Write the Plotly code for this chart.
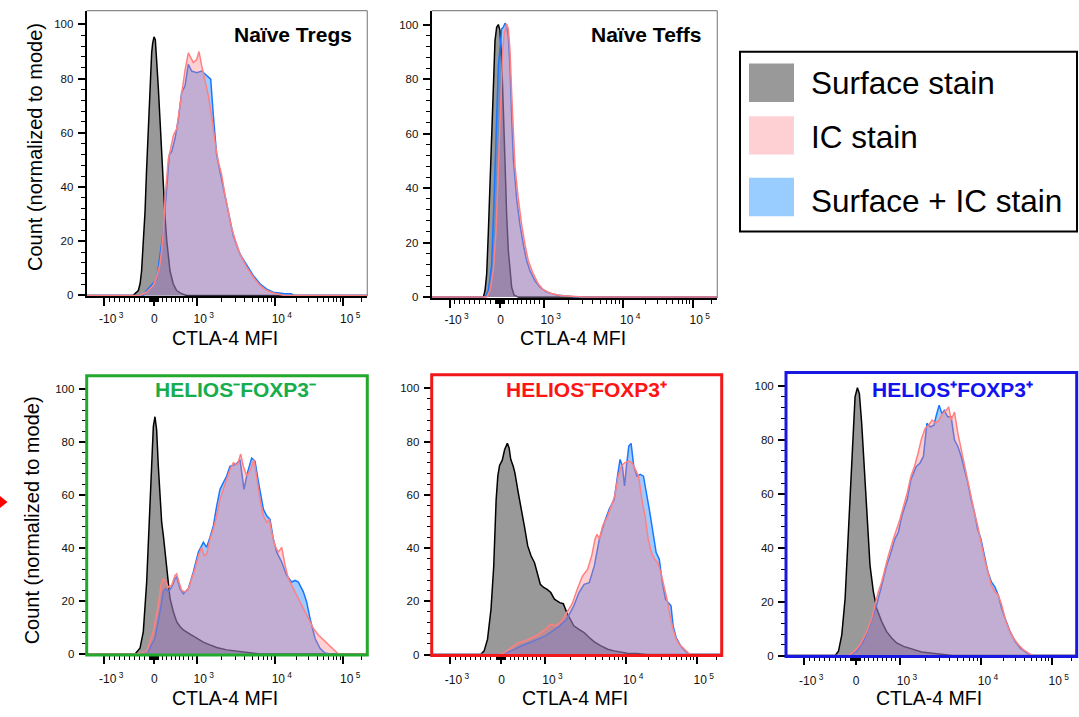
import numpy as np
import plotly.graph_objects as go

# ---------------------------------------------------------------------------
# CTLA-4 histograms (x: CTLA-4 MFI, y: count normalized to mode)
# surf = surface stain, ic = intracellular stain, both = surface + IC stain
# ---------------------------------------------------------------------------

# Naive Tregs
tregs_surf_mfi = [-1500, -420, -315, -280, -250, -215, -180, -150, -115, -80, -47, -27, 0, 31, 62, 100,
                  140, 180, 220, 260, 300, 375, 450, 530, 650, 770, 250000]
tregs_surf_cnt = [0, 0, 1.8, 4.3, 9, 19, 31, 46, 63, 79, 89.5, 93, 95.4, 94.4, 88, 77,
                  65, 53, 38, 28.6, 20, 9, 4.3, 1.8, 0.6, 0, 0]
tregs_ic_mfi = [-1500, -282, -148, -15, 62, 140, 180, 219, 258, 297, 336, 375, 453, 531, 609, 671, 726,
                804, 859, 921, 1000, 1066, 1150, 1260, 1385, 1540, 1670, 1840, 2025, 2230, 2460, 2700,
                2980, 3460, 4220, 5150, 6310, 7760, 9540, 13100, 16220, 250000]
tregs_ic_cnt = [0, 0, 1.2, 3.7, 6.7, 11.6, 17, 23.8, 36, 43, 50.5, 53, 59, 61.5, 70, 76, 83,
                89.5, 87.7, 85.9, 87, 90, 84.7, 79.8, 73.7, 65, 56.6, 49.3, 44.5, 37, 31, 25,
                20.7, 15.2, 10.4, 6.7, 3.7, 1.8, 0.9, 0.1, 0, 0]
tregs_both_mfi = [-1500, -215, -148, 62, 219, 297, 359, 414, 492, 570, 648, 726, 804, 882, 1000, 1150,
                  1260, 1385, 1480, 1595, 1754, 1929, 2123, 2337, 2576, 2842, 3457, 4220, 5150, 6300,
                  7760, 9540, 13100, 16900, 18070, 250000]
tregs_both_cnt = [0, 0, 1.8, 6, 23.8, 39.6, 51.8, 53, 57.9, 65, 75, 77.3, 85.3, 82.8, 82.2, 82.8,
                  81.6, 80.4, 79.8, 66.4, 51.8, 45.7, 39.6, 33.5, 27.4, 21.9, 15.2, 11, 7.3, 4.3,
                  2.3, 1.2, 0.7, 0.6, 0, 0]

# Naive Teffs
teffs_surf_mfi = [-1500, -333, -300, -267, -234, -201, -169, -136, -103, -70, -37, -4, 34, 72, 110,
                  149, 187, 225, 264, 318, 417, 250000]
teffs_surf_cnt = [0, 0, 2.4, 8.5, 24, 43.5, 60, 78.5, 94, 99, 100, 97.8, 87, 69, 48,
                  30, 17, 8.5, 3.6, 0.8, 0, 0]
teffs_ic_mfi = [-1500, -267, -201, -136, -83, -37, 11, 57, 95, 149, 187, 225, 264, 302, 340, 417, 493,
                570, 647, 762, 877, 992, 1190, 1570, 2510, 3030, 250000]
teffs_ic_cnt = [0, 0, 2.4, 9.7, 24, 48, 72.5, 90.6, 97, 100.2, 98.4, 90.6, 75, 58, 48, 36, 26.6,
                19.3, 13.3, 8.5, 4.8, 2.7, 1.4, 0.6, 0.1, 0, 0]
teffs_both_mfi = [-1500, -300, -234, -169, -122, -83, -37, 34, 72, 110, 149, 187, 225, 264, 302, 379,
                  455, 532, 609, 685, 800, 915, 1085, 1430, 2075, 2510, 250000]
teffs_both_cnt = [0, 0, 2.4, 12, 36, 60, 84.5, 98.4, 99, 100.5, 99.6, 95.4, 84.5, 66, 50.7, 36,
                  26.6, 19.3, 13.3, 9.7, 6, 3.6, 1.8, 0.8, 0.2, 0, 0]

# HELIOS- FOXP3-
hnfn_surf_mfi = [-1500, -382, -282, -215, -148, -94, -47, -13, 23, 62, 101, 141, 180, 219, 258, 297,
                 336, 375, 453, 531, 609, 687, 843, 1000, 1202, 1451, 1754, 2337, 3457, 5149, 6304,
                 250000]
hnfn_surf_cnt = [0, 0, 2.2, 8.5, 27, 52, 73, 86, 89.6, 84.6, 71, 58.4, 49.7, 44.7, 38.5, 31,
                 26, 21, 16, 12.2, 10.4, 9.1, 7.5, 6, 4.5, 3.5, 2.5, 1.6, 1, 0.5, 0,
                 0]
hnfn_ic_mfi = [-1500, -349, -148, -13, 101, 164, 219, 258, 336, 414, 492, 531, 585, 648, 726, 804, 882,
               960, 1048, 1149, 1227, 1321, 1451, 1595, 1754, 1929, 2123, 2337, 2576, 2842, 3196,
               3527, 3815, 4220, 4750, 5260, 5697, 6304, 6997, 7757, 8420, 9070, 10040, 11160,
               12420, 13830, 15390, 18072, 21290, 25110, 29640, 35140, 41730, 46670, 55700,
               70310, 84000, 250000]
hnfn_ic_cnt = [0, 0, 1, 8.5, 18.5, 26, 28.5, 27.8, 25.3, 26, 29.7, 30.3, 27.2, 24, 23.5, 24.7, 28.5,
               32.2, 37.2, 40.3, 37.2, 37.8, 43.4, 47.2, 52.2, 58.4, 62.2, 65.9, 69.7, 72.2, 71.5,
               75.5, 70.9, 67.2, 69.7, 73.4, 65.9, 58.4, 52.2, 49.7, 50.9, 45.9, 40.9, 38.5,
               40.3, 33.5, 28.5, 24.7, 21, 17.2, 13.5, 9.7, 7.2, 6, 4.1,
               1.6, 0, 0]
hnfn_both_mfi = [-1500, -315, -114, 23, 141, 219, 273, 336, 414, 492, 531, 609, 687, 804, 921, 1048,
                 1204, 1321, 1451, 1595, 1754, 1929, 2123, 2337, 2576, 2980, 3196, 3457, 3890, 4305,
                 4900, 5420, 5990, 6997, 7757, 8598, 9541, 10600, 12420, 14574, 17120, 19080,
                 21290, 25110, 28040, 31390, 37140, 44170, 52500, 62500, 250000]
hnfn_both_cnt = [0, 0, 1, 6, 16, 23.5, 24.7, 23.5, 25.3, 28.5, 29.1, 24.7, 22.8, 24.7, 31, 38.5,
                 42.2, 40.3, 44.1, 48.4, 55.9, 62.2, 64.7, 67.2, 70.9, 71.5, 72.2, 73.4, 62.2, 68.4,
                 74, 72.8, 65.3, 54.7, 52.2, 50.9, 43.4, 38.5, 34.7, 29.7, 27.2, 27.8,
                 27.2, 23.5, 19.7, 13.5, 6, 2.2, 0.4, 0, 0]

# HELIOS- FOXP3+
hnfp_surf_mfi = [-1500, -400, -333, -267, -200, -147, -100, -67, -33, 23, 77, 138, 177, 215, 269, 308,
                 385, 461, 523, 600, 677, 754, 807, 885, 961, 1049, 1157, 1275, 1475, 1626, 1791,
                 1974, 2175, 2516, 2910, 3366, 3894, 4733, 5752, 6991, 8497, 10300, 13950, 15420,
                 18890, 250000]
hnfp_surf_cnt = [0, 0, 1.4, 5.8, 17, 33, 58, 67, 71, 73, 77, 79.3, 77.7, 73.3, 70.8, 68.3,
                 60.8, 54.6, 48.3, 40.8, 37, 34.5, 30.8, 26.4, 25.2, 24.5, 23.3, 20.8, 19.5, 19.1, 15.8,
                 13.3, 10.8, 9.5, 8.3, 6.4, 4.8, 3.3, 2, 1.4, 1, 0.5, 0.4, 0.25,
                 0, 0]
hnfp_ic_mfi = [-1500, -33, 77, 231, 385, 538, 692, 846, 1000, 1157, 1339, 1548, 1791, 2072, 2397, 2773,
               3207, 3609, 3973, 4210, 4505, 4960, 5752, 6449, 7100, 7843, 8700, 9526, 10000,
               10840, 11990, 13260, 14670, 16230, 17950, 19860, 21960, 24300, 26880, 29730,
               32890, 36380, 40240, 44510, 49240, 54470, 63400, 70100, 79100, 250000]
hnfp_ic_cnt = [0, 0, 0.75, 2.6, 4.5, 5.1, 6.4, 7.6, 9.5, 11.4, 10.8, 12.6, 15.8, 18.9, 24.5, 29.5,
               32, 37, 43.3, 45.2, 43.3, 48.3, 52, 55.8, 59.6, 67, 70.8, 72, 72.3,
               72.7, 72, 69.6, 67, 58.3, 52, 43.3, 38.3, 35.8, 34.5, 30.8,
               25.8, 20.8, 14.5, 9.5, 5.8, 3.9, 2.3, 1.4, 0, 0]
hnfp_both_mfi = [-1500, 0, 231, 461, 692, 846, 1000, 1214, 1475, 1791, 2175, 2516, 2910, 3366, 3894,
                 4505, 5212, 6030, 6991, 7700, 8320, 8902, 9526, 10100, 10840, 11630, 12620, 13950,
                 15430, 17070, 18880, 20890, 23100, 25560, 28270, 31270, 34590, 38260, 41500,
                 44510, 49240, 57300, 66700, 77570, 250000]
hnfp_both_cnt = [0, 0, 1.4, 3.3, 4.8, 5.8, 7, 8.9, 10.8, 13.3, 18.3, 23.3, 26.4, 27, 33.3,
                 43.3, 49.6, 54.6, 58.3, 67, 73.3, 70.8, 63.3, 70.8, 78.3, 79.3, 70.8, 67,
                 67.7, 67, 60.8, 53.3, 45.8, 38.3, 35.8, 27, 20.8, 19.5, 18.3,
                 10.8, 6.4, 3.3, 1.4, 0, 0]

# HELIOS+ FOXP3+
hpfp_surf_mfi = [-1500, -400, -335, -271, -206, -161, -110, -58, -13, 38, 83, 135, 188, 248, 323, 399,
                 474, 587, 699, 812, 925, 1103, 1409, 1800, 2414, 3240, 4353, 250000]
hpfp_surf_cnt = [0, 0, 1.6, 7.7, 21.2, 38.4, 60.4, 82.5, 96, 99.4, 97.2, 86.2, 70.2, 51.8, 33.5, 23.7,
                 17.5, 12.6, 8.9, 6.5, 4.7, 3.4, 2.2, 1.3, 0.9, 0.4, 0, 0]
hpfp_ic_mfi = [-1500, -142, -45, 98, 248, 361, 436, 511, 587, 662, 737, 850, 925, 1000, 1103, 1216,
               1342, 1480, 1632, 1800, 1985, 2190, 2414, 2663, 2937, 3240, 3572, 3865, 4140, 4566,
               5036, 5554, 6125, 6755, 7450, 8217, 9062, 10000, 11130, 12390, 13790, 15350,
               17090, 19020, 21170, 23570, 27670, 32490, 38150, 44810, 52600, 250000]
hpfp_ic_cnt = [0, 0, 1.3, 4, 8.9, 13.8, 18.8, 23.7, 27.3, 32.2, 37.1, 43.3, 46.9, 50.6, 55.5, 60.4,
               66.5, 70.2, 75.1, 80.6, 84.3, 85.5, 87.4, 86.2, 87.4, 89.8, 91, 92.3, 87.4, 90.4,
               82.5, 76.3, 70.2, 65.3, 58, 53.1, 48.2, 42, 35.9, 31, 26.1, 23.7,
               22.4, 18.8, 13.8, 10.2, 6.5, 4, 2.2, 1, 0, 0]
hpfp_both_mfi = [-1500, -110, 23, 173, 323, 474, 587, 699, 775, 887, 963, 1050, 1216, 1342, 1555,
                 1715, 1891, 2085, 2300, 2536, 2716, 2937, 3180, 3402, 3752, 4140, 4566, 5036, 5554,
                 6125, 6755, 7450, 8217, 9062, 10000, 11130, 12390, 13790, 15350, 17090, 19020,
                 21170, 24860, 29190, 34280, 42470, 49880, 250000]
hpfp_both_cnt = [0, 0, 1.6, 5.3, 11.4, 18.8, 26.1, 33.5, 37.1, 43.3, 45.7, 51.8, 58, 65.3, 70.2,
                 71.4, 73.9, 86.2, 84.9, 85.5, 89.2, 92.9, 89.8, 91, 88.6, 88.6, 80, 77.6, 73.9,
                 69, 64.1, 58, 53.1, 46.9, 43.3, 37.1, 31, 27.3, 25.5, 22.4, 17.5,
                 13.8, 8.9, 5.3, 2.8, 1, 0, 0]

# Axis ticks (MFI)
major_ticks = [-1000, 0, 1000, 10000, 100000]
major_text = ["-10<sup>\u00a03</sup>", "0" + "\u00a0" * 4, "10<sup>\u00a03</sup>",
              "10<sup>\u00a04</sup>", "10<sup>\u00a05</sup>"]
minor_ticks = ([-m * 100 for m in range(1, 10)] + [-m * 10 for m in range(1, 10)] +
               [m * 10 for m in range(1, 10)] + [m * 100 for m in range(1, 10)] +
               [m * 1000 for m in range(2, 10)] + [m * 10000 for m in range(2, 10)] + [200000])

# Biexponential display transform: linear around zero, compressed log above 10^3
NEG_SLOPE = 1.164
LOG_A, LOG_B = 1.945, 0.115


def biex(values):
    v = np.asarray(values, dtype=float)
    out = np.where(v < 0, v / 1000.0 * NEG_SLOPE, v / 1000.0)
    hi = v > 1000
    t = np.log10(np.where(hi, v, 1000.0) / 1000.0)
    return np.where(hi, 1 + LOG_A * t - LOG_B * t * t, out)


X_RANGE = [-1.576, 4.995]
Y_RANGE = [-0.3, 105.1]

W, H = 1079, 717


def px(x):
    return x / W


def py(y):
    return 1 - y / H


FONT = "Arial, 'Liberation Sans', Helvetica, sans-serif"
SURF_FILL, SURF_LINE = "rgb(153,153,153)", "black"
BOTH_FILL, BOTH_LINE = "rgba(30,130,255,0.42)", "rgb(25,120,255)"
IC_FILL, IC_LINE = "rgba(255,120,130,0.35)", "rgb(255,128,128)"

# panel: (title, title color, title centre x, frame color, plot box in px (left, top, right, bottom), data)
panels = [
    ("Naïve Tregs", "black", None, None, (86.7, 10.7, 367.3, 298.3),
     (tregs_surf_mfi, tregs_surf_cnt, tregs_both_mfi, tregs_both_cnt, tregs_ic_mfi, tregs_ic_cnt)),
    ("Naïve Teffs", "black", None, None, (431.7, 10.7, 717.3, 300.0),
     (teffs_surf_mfi, teffs_surf_cnt, teffs_both_mfi, teffs_both_cnt, teffs_ic_mfi, teffs_ic_cnt)),
    ("HELIOS\u207bFOXP3\u207b", "#16ad4c", 235, "#22a82a", (86.7, 378.3, 367.3, 659.5),
     (hnfn_surf_mfi, hnfn_surf_cnt, hnfn_both_mfi, hnfn_both_cnt, hnfn_ic_mfi, hnfn_ic_cnt)),
    ("HELIOS\u207bFOXP3\u207a", "#ff1414", 586, "#f01818", (431.7, 377.3, 721.7, 660.0),
     (hnfp_surf_mfi, hnfp_surf_cnt, hnfp_both_mfi, hnfp_both_cnt, hnfp_ic_mfi, hnfp_ic_cnt)),
    ("HELIOS\u207aFOXP3\u207a", "#1212ee", 952.5, "#1818e0", (786.0, 375.0, 1076.7, 661.0),
     (hpfp_surf_mfi, hpfp_surf_cnt, hpfp_both_mfi, hpfp_both_cnt, hpfp_ic_mfi, hpfp_ic_cnt)),
]

fig = go.Figure()
shapes, annotations = [], []

for i, (title, tcolor, tx, fcolor, box, data) in enumerate(panels, start=1):
    left, top, right, bottom = box
    xname = "x" if i == 1 else f"x{i}"
    yname = "y" if i == 1 else f"y{i}"
    s_x, s_y, b_x, b_y, c_x, c_y = data

    for xs, ys, fill, line in ((s_x, s_y, SURF_FILL, SURF_LINE),
                               (b_x, b_y, BOTH_FILL, BOTH_LINE),
                               (c_x, c_y, IC_FILL, IC_LINE)):
        fig.add_trace(go.Scatter(x=biex(xs).tolist(), y=ys, mode="lines", fill="tozeroy",
                                 fillcolor=fill, line=dict(color=line, width=1.5),
                                 xaxis=xname, yaxis=yname, hoverinfo="skip"))

    framed = fcolor is not None
    fig.update_layout(**{
        ("xaxis" if i == 1 else f"xaxis{i}"): dict(
            domain=[px(left), px(right)], range=X_RANGE, anchor=yname,
            tickmode="array", tickvals=biex(major_ticks).tolist(), ticktext=major_text,
            ticks="outside", ticklen=8, tickwidth=2, tickcolor="black",
            ticklabelshift=7, ticklabelstandoff=5 if framed else 2,
            tickfont=dict(size=12, color="#111", family=FONT),
            minor=dict(tickmode="array", tickvals=biex(minor_ticks).tolist(), ticks="outside",
                       ticklen=4, tickwidth=1, tickcolor="black", showgrid=False),
            showgrid=False, zeroline=False, showline=not framed, linecolor="black", linewidth=2,
            fixedrange=True),
        ("yaxis" if i == 1 else f"yaxis{i}"): dict(
            domain=[py(bottom), py(top)], range=Y_RANGE, anchor=xname,
            tickmode="array", tickvals=[0, 20, 40, 60, 80, 100],
            ticks="outside", ticklen=7, tickwidth=2, tickcolor="black",
            tickfont=dict(size=11.5, color="#111", family=FONT), ticklabelstandoff=2,
            minor=dict(tickmode="array", tickvals=list(range(0, 104, 4)), ticks="outside",
                       ticklen=4, tickwidth=1, tickcolor="black", showgrid=False),
            showgrid=False, zeroline=False, showline=not framed, linecolor="black", linewidth=2,
            fixedrange=True),
    })

    if framed:
        shapes.append(dict(type="rect", xref="paper", yref="paper",
                           x0=px(left), x1=px(right), y0=py(bottom), y1=py(top),
                           line=dict(color=fcolor, width=3)))
        annotations.append(dict(text=f"<b>{title}</b>", x=px(tx), y=py(392),
                                xref="paper", yref="paper",
                                xanchor="center", yanchor="middle", showarrow=False,
                                font=dict(size=21, color=tcolor, family=FONT)))
    else:
        for x0, y0, x1, y1 in ((left, top, right, top), (right, top, right, bottom)):
            shapes.append(dict(type="line", xref="paper", yref="paper",
                               x0=px(x0), y0=py(y0), x1=px(x1), y1=py(y1),
                               line=dict(color="#8a8a8a", width=1.2)))
        annotations.append(dict(text=f"<b>{title}</b>", x=px(right - 13), y=py(34.5),
                                xref="paper", yref="paper", xanchor="right", yanchor="middle",
                                showarrow=False, font=dict(size=21, color=tcolor, family=FONT)))

    # x-axis title
    annotations.append(dict(text="CTLA-4 MFI", x=px((left + right) / 2 - 2),
                            y=py(340 if i <= 2 else 703), xref="paper", yref="paper",
                            xanchor="center", yanchor="middle", showarrow=False,
                            font=dict(size=19.5, color="black", family=FONT)))

# y-axis titles (one per row)
for yc, xc in ((148, 35), (524, 32)):
    annotations.append(dict(text="Count (normalized to mode)", x=px(xc), y=py(yc),
                            xref="paper", yref="paper", xanchor="center", yanchor="middle",
                            textangle=-90, showarrow=False,
                            font=dict(size=20, color="black", family=FONT)))

# legend box
shapes.append(dict(type="rect", xref="paper", yref="paper", x0=px(740), x1=px(1077),
                   y0=py(233), y1=py(52), line=dict(color="black", width=2)))
legend_items = [("Surface stain", "#999999", 64, 102.7, 84),
                ("IC stain", "#ffd0d3", 117, 155.7, 137.5),
                ("Surface + IC stain", "#99ccff", 179, 217.7, 202)]
for label, color, y0, y1, yt in legend_items:
    shapes.append(dict(type="rect", xref="paper", yref="paper", x0=px(749), x1=px(794),
                       y0=py(y1), y1=py(y0), line=dict(width=0), fillcolor=color))
    annotations.append(dict(text=label, x=px(809), y=py(yt), xref="paper", yref="paper",
                            xanchor="left", yanchor="middle", showarrow=False,
                            font=dict(size=31.5, color="black", family=FONT)))

# red pointer at the left margin
shapes.append(dict(type="path", xref="paper", yref="paper",
                   path=f"M {px(0)} {py(499.5)} L {px(7.5)} {py(505.5)} L {px(0)} {py(511.5)} Z",
                   fillcolor="#ff0000", line=dict(width=0)))

fig.update_layout(width=W, height=H, margin=dict(l=0, r=0, t=0, b=0),
                  paper_bgcolor="white", plot_bgcolor="white", showlegend=False,
                  shapes=shapes, annotations=annotations,
                  font=dict(family=FONT, color="black"))

fig.write_html("out.html")
